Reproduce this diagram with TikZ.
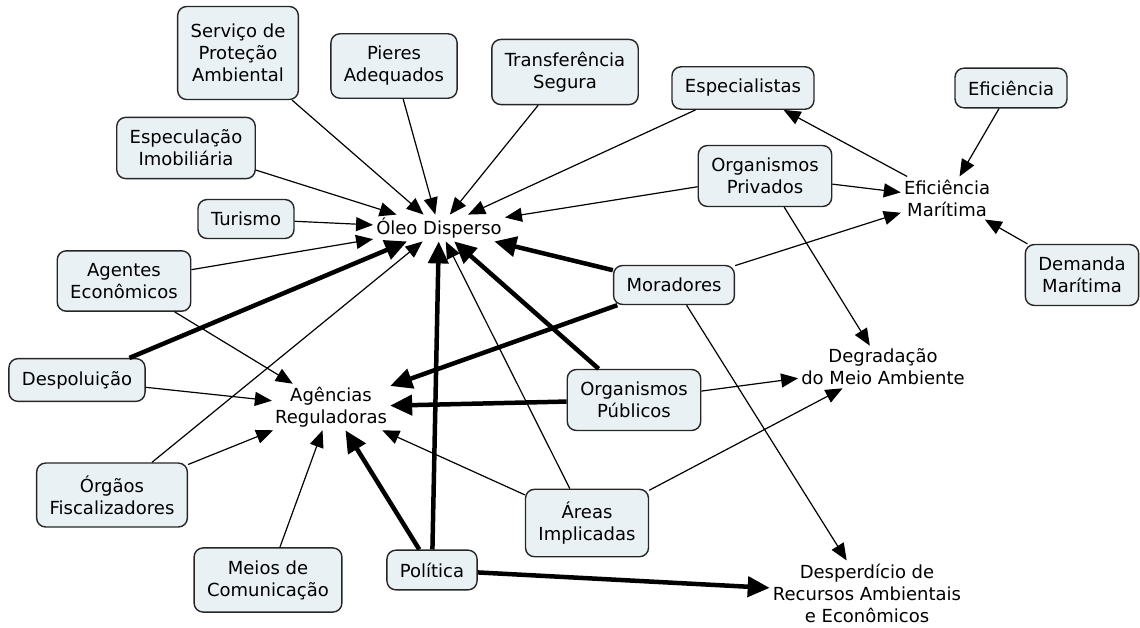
\documentclass[tikz,border=0pt]{standalone}
\usepackage{fontspec}
\setmainfont{DejaVu Sans}
\usetikzlibrary{arrows.meta}

\definecolor{boxfill}{RGB}{233,241,244}

\begin{document}
\begin{tikzpicture}[x=1pt,y=-1pt,
    font=\fontsize{18}{22}\selectfont,
    box/.style={draw=black!85, line width=1.4pt, fill=boxfill, rounded corners=9pt,
        align=center, inner xsep=13pt, inner ysep=12.5pt, minimum height=38pt},
    txt/.style={align=center, inner sep=3pt},
    link/.style={line width=1.2pt, -{Triangle[length=17pt,width=14pt]}},
    heavylink/.style={line width=4.5pt, -{Triangle[length=22pt,width=20pt]}}]
    \useasboundingbox (0,0) rectangle (1140,627);

    \node[box, minimum height=93pt] (servico) at (238,53) {Serviço de\\Proteção\\Ambiental};
    \node[box] (pieres) at (394,66) {Pieres\\Adequados};
    \node[box] (transf) at (565,72) {Transferência\\Segura};
    \node[box] (espec) at (743,88) {Especialistas};
    \node[box] (efic) at (1011,88) {Eficiência};
    \node[box] (especul) at (186,148) {Especulação\\Imobiliária};
    \node[box] (privados) at (765,176) {Organismos\\Privados};
    \node[txt] (efmar) at (947,198) {Eficiência\\Marítima};
    \node[box] (turismo) at (246,219) {Turismo};
    \node[txt] (oleo) at (439,228) {Óleo Disperso};
    \node[box] (agentes) at (124,281) {Agentes\\Econômicos};
    \node[box] (moradores) at (674,285) {Moradores};
    \node[box] (demanda) at (1082,275) {Demanda\\Marítima};
    \node[box] (despol) at (77,380) {Despoluição};
    \node[txt] (agencias) at (331,407) {Agências\\Reguladoras};
    \node[box] (publicos) at (634,400) {Organismos\\Públicos};
    \node[txt] (degrad) at (883,367) {Degradação\\do Meio Ambiente};
    \node[box] (orgaos) at (112,495) {Órgãos\\Fiscalizadores};
    \node[box] (areas) at (587,523) {Áreas\\Implicadas};
    \node[box] (meios) at (268,580) {Meios de\\Comunicação};
    \node[box] (politica) at (432,570) {Política};
    \node[txt] (desperd) at (867,593) {Desperdício de\\Recursos Ambientais\\e Econômicos};

    % into Óleo Disperso
    \draw[link] (servico) -- (oleo);
    \draw[link] (pieres) -- (oleo);
    \draw[link] (transf) -- (oleo);
    \draw[link] (espec) -- (oleo);
    \draw[link] (especul) -- (oleo);
    \draw[link] (turismo) -- (oleo);
    \draw[link] (privados) -- (oleo);
    \draw[link] (agentes) -- (oleo);
    \draw[link] (orgaos) -- (oleo);
    \draw[link] (areas) -- (oleo);
    \draw[heavylink] (despol) -- (oleo);
    \draw[heavylink] (moradores) -- (oleo);
    \draw[heavylink] (publicos) -- (oleo);
    \draw[heavylink] (politica) -- (oleo);

    % Eficiência Marítima
    \draw[link] (efmar) -- (espec);
    \draw[link] (efic) -- (efmar);
    \draw[link] (privados) -- (efmar);
    \draw[link] (moradores) -- (efmar);
    \draw[link] (demanda) -- (efmar);

    % into Agências Reguladoras
    \draw[link] (agentes) -- (agencias);
    \draw[link] (despol) -- (agencias);
    \draw[link] (orgaos) -- (agencias);
    \draw[link] (meios) -- (agencias);
    \draw[link] (areas) -- (agencias);
    \draw[heavylink] (politica) -- (agencias);
    \draw[heavylink] (moradores) -- (agencias);
    \draw[heavylink] (publicos) -- (agencias);

    % outcomes
    \draw[link] (privados) -- (degrad);
    \draw[link] (publicos) -- (degrad);
    \draw[link] (areas) -- (degrad);
    \draw[link] (moradores) -- (desperd);
    \draw[heavylink] (politica) -- (desperd);
\end{tikzpicture}
\end{document}
